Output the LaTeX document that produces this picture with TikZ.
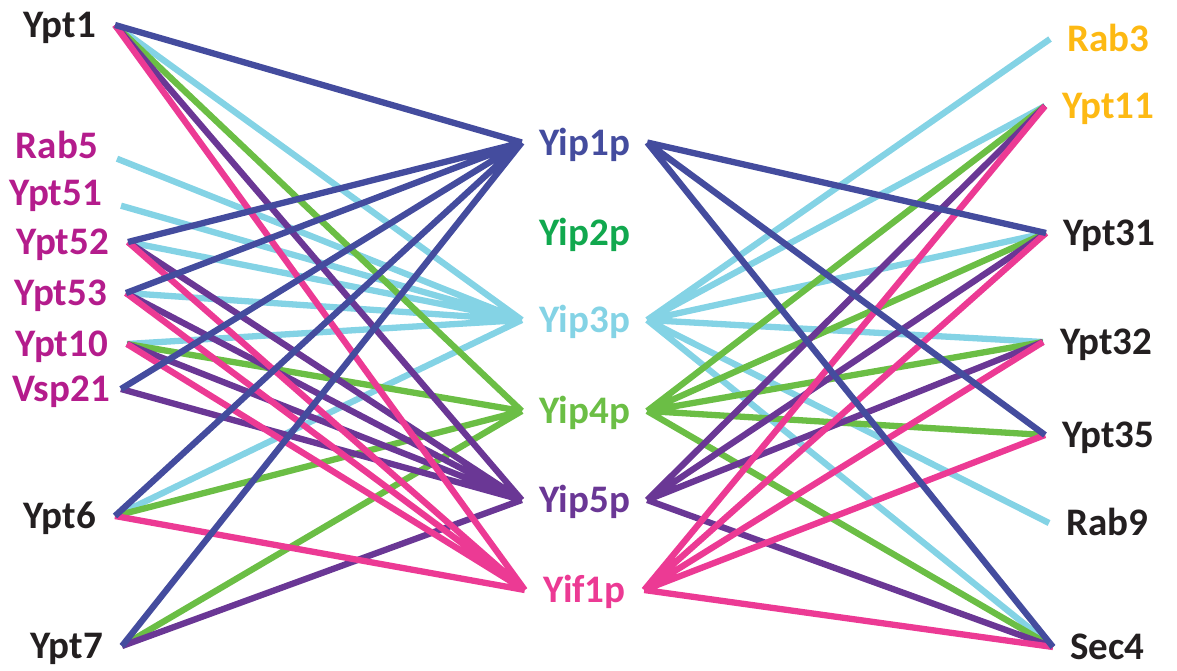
\documentclass[tikz,border=0pt]{standalone}
\usepackage{fontspec}
\setmainfont{Carlito}
\definecolor{bluelink}{RGB}{68,76,158}
\definecolor{cyanlink}{RGB}{132,211,229}
\definecolor{greenlink}{RGB}{107,190,69}
\definecolor{purplelink}{RGB}{106,55,149}
\definecolor{pinklink}{RGB}{236,58,148}
\definecolor{magentatext}{RGB}{180,28,140}
\definecolor{greentext}{RGB}{17,168,78}
\definecolor{yellowtext}{RGB}{253,185,19}
\definecolor{blacktext}{RGB}{35,31,32}
\tikzset{
  gene/.style={font=\bfseries\fontsize{39}{41}\selectfont, text height=25pt, text depth=0pt, inner ysep=0pt},
  lgene/.style={gene, anchor=east, inner xsep=19pt},
  rgene/.style={gene, anchor=west, inner xsep=17pt},
  yip/.style={gene, inner xsep=0pt, minimum width=125pt},
  link/.style={line width=6.3pt}
}
\begin{document}
\begin{tikzpicture}[x=1pt,y=-1pt]
    \useasboundingbox (0,0) rectangle (1177,670);
    % left column
    \node[lgene, blacktext] (ypt1) at (115,25) {Ypt1};
    \node[lgene, magentatext] (rab5) at (117,146) {Rab5};
    \node[lgene, magentatext] (ypt51) at (121,193) {Ypt51};
    \node[lgene, magentatext] (ypt52) at (128,242) {Ypt52};
    \node[lgene, magentatext] (ypt53) at (126,293) {Ypt53};
    \node[lgene, magentatext] (ypt10) at (127,344) {Ypt10};
    \node[lgene, magentatext, inner xsep=11pt] (vsp21) at (121,389) {Vsp21};
    \node[lgene, blacktext] (ypt6) at (115,516) {Ypt6};
    \node[lgene, blacktext] (ypt7) at (122,646) {Ypt7};
    % middle column
    \node[yip, bluelink] (yip1) at (584.5,142.5) {Yip1p};
    \node[yip, greentext] (yip2) at (584.5,233) {Yip2p};
    \node[yip, cyanlink] (yip3) at (584.5,320) {Yip3p};
    \node[yip, greenlink] (yip4) at (584.5,411) {Yip4p};
    \node[yip, purplelink] (yip5) at (584.5,500) {Yip5p};
    \node[yip, pinklink, minimum width=119pt] (yif1) at (584.5,590) {Yif1p};
    % right column
    \node[rgene, yellowtext] (rab3) at (1050,39) {Rab3};
    \node[rgene, yellowtext] (ypt11) at (1045,106) {Ypt11};
    \node[rgene, blacktext] (ypt31) at (1046,233) {Ypt31};
    \node[rgene, blacktext] (ypt32) at (1043,342) {Ypt32};
    \node[rgene, blacktext] (ypt35) at (1045,435) {Ypt35};
    \node[rgene, blacktext] (rab9) at (1049,523) {Rab9};
    \node[rgene, blacktext] (sec4) at (1053,647) {Sec4};
    % Yip3p links
    \draw[link, cyanlink] (ypt1.east)--(yip3.west) (rab5.south east)--(yip3.west)
        (ypt51.south east)--(yip3.west) (ypt52.east)--(yip3.west)
        (ypt53.east)--(yip3.west) (ypt10.east)--(yip3.west) (ypt6.east)--(yip3.west);
    \draw[link, cyanlink] (yip3.east)--(rab3.west) (yip3.east)--(ypt11.west)
        (yip3.east)--(ypt31.west) (yip3.east)--(ypt32.west)
        (yip3.east)--(rab9.west) (yip3.east)--(sec4.west);
    % Yip4p links
    \draw[link, greenlink] (ypt1.east)--(yip4.west) (ypt10.east)--(yip4.west)
        (ypt6.east)--(yip4.west) (ypt7.east)--(yip4.west);
    \draw[link, greenlink] (yip4.east)--(ypt11.west) (yip4.east)--(ypt31.west)
        (yip4.east)--(ypt32.west) (yip4.east)--(ypt35.west) (yip4.east)--(sec4.west);
    % Yip5p links
    \draw[link, purplelink] (ypt1.east)--(yip5.west) (ypt52.east)--(yip5.west)
        (ypt53.east)--(yip5.west) (ypt10.east)--(yip5.west)
        (vsp21.east)--(yip5.west) (ypt7.east)--(yip5.west);
    \draw[link, purplelink] (yip5.east)--(ypt11.west) (yip5.east)--(ypt31.west)
        (yip5.east)--(ypt32.west) (yip5.east)--(sec4.west);
    % Yif1p links
    \draw[link, pinklink] (ypt1.east)--(yif1.west) (ypt52.east)--(yif1.west)
        (ypt53.east)--(yif1.west) (ypt10.east)--(yif1.west) (ypt6.east)--(yif1.west);
    \draw[link, pinklink] (yif1.east)--(ypt11.west) (yif1.east)--(ypt31.west)
        (yif1.east)--(ypt32.west) (yif1.east)--(ypt35.west) (yif1.east)--(sec4.west);
    % Yip1p links
    \draw[link, bluelink] (ypt1.east)--(yip1.west) (ypt52.east)--(yip1.west)
        (ypt53.east)--(yip1.west) (vsp21.east)--(yip1.west)
        (ypt6.east)--(yip1.west) (ypt7.east)--(yip1.west);
    \draw[link, bluelink] (yip1.east)--(ypt31.west) (yip1.east)--(ypt35.west)
        (yip1.east)--(sec4.west);
\end{tikzpicture}
\end{document}
